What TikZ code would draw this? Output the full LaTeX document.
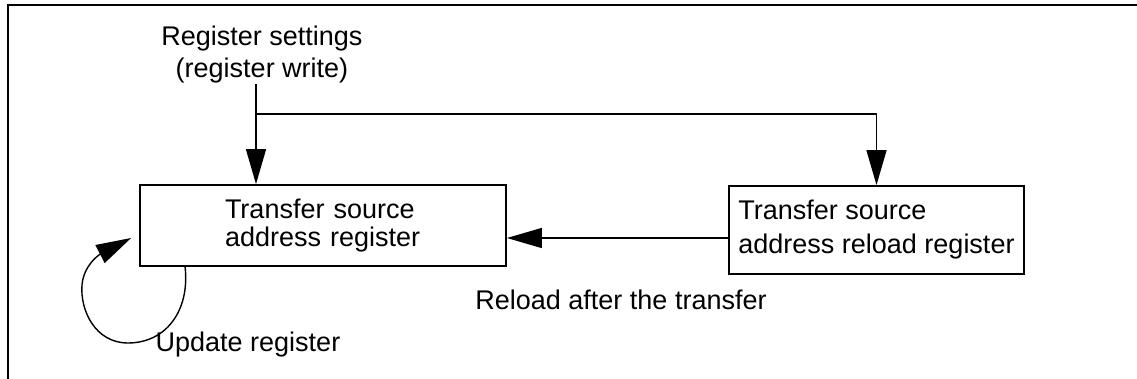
\documentclass[tikz,border=0pt]{standalone}
\usepackage{fontspec}
\setmainfont{Liberation Sans}
\usetikzlibrary{arrows.meta}
\begin{document}
\begin{tikzpicture}[
        x=0.5pt, y=-0.5pt,
        every node/.style={font=\fontsize{13.5}{16}\selectfont},
        regbox/.style={draw, line width=0.9pt, align=left, inner ysep=0pt},
        lbl/.style={inner sep=0pt, align=center},
        conn/.style={draw, line width=0.7pt, -{Triangle[length=17.5pt,width=10pt]}},
    ]
    \useasboundingbox (0,0) rectangle (1137,379);
    % frame
    \draw[line width=0.9pt] (8,379) -- (8,5) -- (1137,5);

    \node[lbl](reg) at (262,55){Register settings\\(register write)};
    \node[regbox, text width=98pt, inner xsep=42.5pt, minimum height=40.5pt,
        font=\fontsize{13.5}{14}\selectfont](src) at (323,225.5){Transfer source\\address register};
    \node[regbox, inner xsep=3pt, minimum width=147.5pt, minimum height=44pt,
        font=\fontsize{13.5}{17}\selectfont](rld) at (876.5,230){Transfer source\\address reload register};
    \node[lbl](reload) at (621,300){Reload after the transfer};
    \node[lbl](upd) at (248,345){Update register};
    \coordinate (split) at (256,114);

    \draw[conn] (split |- reg.south) -- (split |- src.north);
    \draw[conn] (split) -| (rld.north);
    \draw[conn] ([yshift=-4pt]rld.west) -- ([yshift=-4pt]rld.west -| src.east);
    \draw[conn] ([xshift=23pt]src.south west)
        .. controls (190,312) and (165,343) .. (128,343)
        .. controls (95,343) and (80,310) .. (82,285)
        .. controls (84,262) and (104,252) .. ([xshift=-4pt,yshift=-6.25pt]src.west);
\end{tikzpicture}
\end{document}
